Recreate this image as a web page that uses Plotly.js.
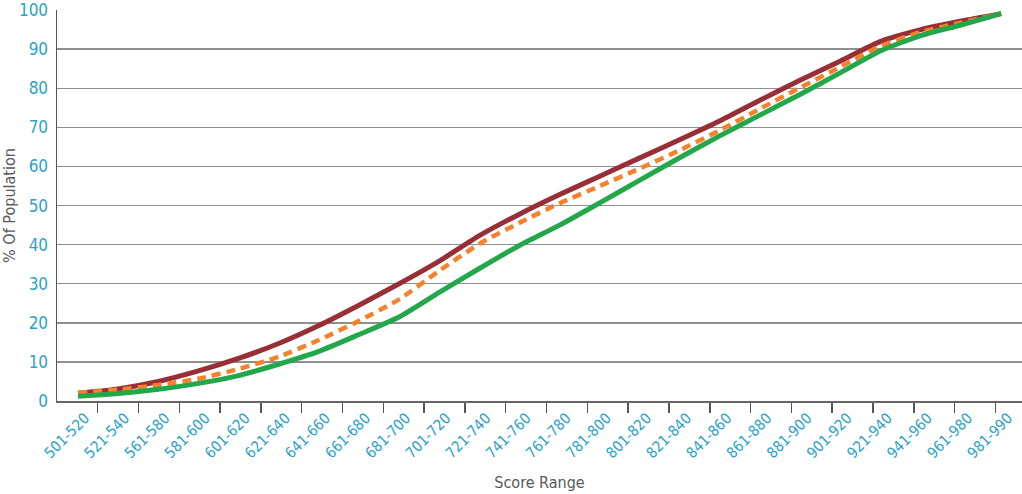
<!DOCTYPE html>
<html>
<head>
<meta charset="utf-8">
<script src="https://cdn.plot.ly/plotly-3.0.1.min.js"></script>
<style>
  html, body { margin: 0; padding: 0; background: #fff; }
  #chart { width: 1022px; height: 494px; }
</style>
</head>
<body>
<div id="chart"></div>
<script>
// ---- data ----
const categories = ["501-520","521-540","561-580","581-600","601-620","621-640","641-660","661-680",
  "681-700","701-720","721-740","741-760","761-780","781-800","801-820","821-840","841-860",
  "861-880","881-900","901-920","921-940","941-960","961-980","981-990"];
const seriesRed    = [2.0, 3.1, 5.0, 7.7, 10.9, 14.7, 19.3, 24.5, 30.0, 35.8, 42.3, 47.8, 52.8, 57.5, 62.2, 66.9, 71.7, 77.0, 82.1, 87.0, 92.0, 95.0, 97.2, 99.1];
const seriesOrange = [2.1, 2.9, 4.1, 5.7, 8.2, 11.3, 15.6, 20.5, 26.0, 33.3, 40.2, 45.6, 50.6, 55.0, 59.5, 64.2, 69.3, 74.8, 80.2, 85.5, 90.8, 94.4, 96.8, 99.1];
const seriesGreen  = [1.2, 1.9, 3.0, 4.5, 6.5, 9.4, 12.7, 17.0, 21.5, 27.8, 33.9, 39.8, 45.0, 50.7, 56.5, 62.3, 67.9, 73.2, 78.5, 84.0, 89.6, 93.5, 96.2, 99.1];
const yTicks = [0,10,20,30,40,50,60,70,80,90,100];

// ---- rendering ----
const FONT = '"Liberation Sans Narrow", "DejaVu Sans Condensed", "Roboto Condensed", "Arial Narrow", sans-serif';
const BLUE = '#2aa2c9';
const idx = categories.map((_, i) => i);
// tick marks sit between categories, on a slightly wider pitch than the points (as in the source)
const TICK_START = 0.49, TICK_STEP = 1.0167;
const tickMarks = categories.slice(1).map((_, k) => TICK_START + k * TICK_STEP);

function trace(y, color, width, dash) {
  return {
    x: idx, y: y, type: 'scatter', mode: 'lines',
    line: { color: color, width: width, shape: 'spline', smoothing: 0.6, dash: dash || 'solid' },
    hoverinfo: 'skip', showlegend: false
  };
}

const data = [
  trace(seriesRed, '#982e36', 5),
  trace(seriesOrange, '#f5822a', 4.5, '9px,6px'),
  trace(seriesGreen, '#23a74b', 5)
];

const layout = {
  width: 1022, height: 494,
  margin: { l: 57, r: 0, t: 10, b: 93 },
  paper_bgcolor: '#fff', plot_bgcolor: '#fff',
  font: { family: FONT, color: '#595959' },
  showlegend: false,
  xaxis: {
    type: 'linear',
    range: [-0.523, 23.52],
    tickmode: 'array', tickvals: idx, ticktext: categories,
    tickangle: -45,
    ticks: '',
    ticklabelshift: 7,
    ticklabelstandoff: 1,
    tickfont: { family: FONT, size: 15, color: BLUE },
    minor: {
      tickmode: 'array', tickvals: tickMarks,
      ticks: 'outside', ticklen: 10, tickwidth: 1.5, tickcolor: '#555', showgrid: false
    },
    showgrid: false, zeroline: false,
    showline: true, linecolor: '#666', linewidth: 1.5,
    title: { text: 'Score Range', font: { family: FONT, size: 16, color: '#595959' }, standoff: 16 }
  },
  yaxis: {
    range: [0, 100.03],
    tickmode: 'array', tickvals: yTicks,
    ticks: '',
    tickfont: { family: FONT, size: 17, color: BLUE },
    showgrid: true, gridcolor: '#8f8f8f', gridwidth: 1.5,
    zeroline: false,
    showline: true, linecolor: '#555', linewidth: 1.5,
    ticklabelstandoff: 4,
    title: { text: '% Of Population', font: { family: FONT, size: 16, color: '#595959' }, standoff: 10 }
  }
};

Plotly.newPlot('chart', data, layout, { staticPlot: true, displayModeBar: false });
</script>
</body>
</html>
